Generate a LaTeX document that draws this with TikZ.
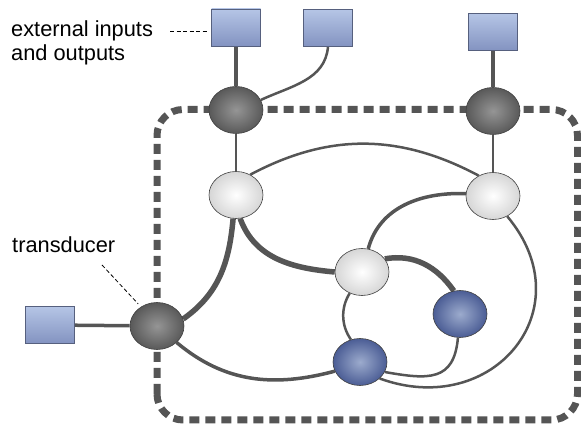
\documentclass[tikz,border=0pt]{standalone}
\usepackage{fontspec}
\setmainfont{Liberation Sans}
\usetikzlibrary{shapes.geometric, backgrounds}
\definecolor{linkGray}{HTML}{555555}
\definecolor{darkIn}{HTML}{959595}
\definecolor{darkOut}{HTML}{595959}
\definecolor{lightOut}{HTML}{D6D6D6}
\definecolor{blueIn}{HTML}{9CABCD}
\definecolor{blueOut}{HTML}{4B5D95}
\definecolor{portTop}{HTML}{B5C5E6}
\definecolor{portBottom}{HTML}{8393C1}
\definecolor{portLine}{HTML}{56607E}
\tikzset{%
  % Specifications for style of nodes:
           unit/.style = {ellipse, draw=black!75, line width=0.6pt,
                          minimum width=54pt, minimum height=47pt, inner sep=0pt},
   transducerUnit/.style = {unit, inner color=darkIn, outer color=darkOut},
       hiddenUnit/.style = {unit, inner color=white, outer color=lightOut},
         coreUnit/.style = {unit, inner color=blueIn, outer color=blueOut},
          ioPort/.style = {rectangle, draw=portLine, line width=0.6pt,
                          minimum width=49pt, minimum height=37pt,
                          top color=portTop, bottom color=portBottom},
       labelText/.style = {inner sep=0pt, font=\fontsize{21.8}{24}\selectfont},
  % Specifications for style of lines:
        thinLink/.style = {draw=linkGray, line width=2.5pt},
         midLink/.style = {draw=linkGray, line width=3.5pt},
       thickLink/.style = {draw=linkGray, line width=5.5pt},
        boundary/.style = {draw=linkGray, line width=7pt, rounded corners=26pt,
                          dash pattern=on 10pt off 6pt},
          leader/.style = {draw=black, line width=0.8pt, dash pattern=on 4pt off 2.5pt},
}

\begin{document}
\begin{tikzpicture}[x=1pt, y=1pt, node distance=85pt]
  \useasboundingbox (0,0) rectangle (581,430);
  % Specification of nodes (position, etc.)
  \node (transducerTop)   [transducerUnit] at (236,320) {};
  \node (transducerRight) [transducerUnit] at (493,319) {};
  \node (transducerSide)  [transducerUnit] at (157,104) {};
  \node (hiddenLeft)      [hiddenUnit, below of=transducerTop] {};
  \node (hiddenRight)     [hiddenUnit, below of=transducerRight] {};
  \node (hiddenCentre)    [hiddenUnit] at (362,158) {};
  \node (coreUpper)       [coreUnit] at (460,116) {};
  \node (coreLower)       [coreUnit] at (360,68) {};

  \node (ioBoxLeft)       [ioPort] at (236,402.5) {};
  \node (ioBoxMid)        [ioPort] at (328,402) {};
  \node (ioBoxRight)      [ioPort] at (493,398) {};
  \node (ioBoxSide)       [ioPort] at (50,105) {};

  \node (ioLabel)         [labelText, anchor=north west, align=left] at (11,409)
                          {external inputs\\and outputs};
  \node (transducerLabel) [labelText, anchor=base west] at (12,177) {transducer};
  \coordinate (ioTick) at (170,399);
  \coordinate (transducerTick) at (102,165);

  % Specification of lines between nodes specified above
  \begin{scope}[on background layer]
  \draw[boundary] (157,10) rectangle (577.5,320.5);

  \draw[midLink]   (ioBoxLeft) -- (transducerTop);
  \draw[thinLink]  (ioBoxMid.south) to[out=-95, in=25] (transducerTop.22);
  \draw[midLink]   (ioBoxRight) -- (transducerRight);
  \draw[midLink]   (ioBoxSide) -- (transducerSide);

  \draw[thinLink]  (transducerTop) -- (hiddenLeft);
  \draw[thinLink]  (transducerRight) -- (hiddenRight);
  \draw[thinLink]  (hiddenLeft.55) to[out=28, in=152] (hiddenRight.125);

  \draw[thickLink] (transducerSide.15) to[out=35, in=-95] (hiddenLeft.-97);
  \draw[thickLink] (hiddenLeft.-80) to[out=-70, in=175] (hiddenCentre.west);
  \draw[midLink]   (hiddenRight.175) to[out=178, in=75] (hiddenCentre.75);
  \draw[thickLink] (hiddenCentre.30) to[out=10, in=125] (coreUpper.105);

  \draw[thinLink]  (hiddenCentre.-120) .. controls +(-9,-14) and +(-10,14) .. (coreLower.112);
  \draw[thinLink]  (coreUpper.-95) to[out=-95, in=-10, looseness=1.4] (coreLower.-22);
  \draw[thinLink]  (hiddenRight.-55) to[out=-50, in=-20, looseness=1.5] (coreLower.-40);
  \draw[midLink]   (transducerSide.-40) to[out=-40, in=195] (coreLower.200);
  \end{scope}

  \draw[leader] (ioTick) -- ([xshift=-4pt, yshift=-3.5pt]ioBoxLeft.west);
  \draw[leader, shorten >=4pt] (transducerTick) -- (transducerSide.130);
\end{tikzpicture}
\end{document}
